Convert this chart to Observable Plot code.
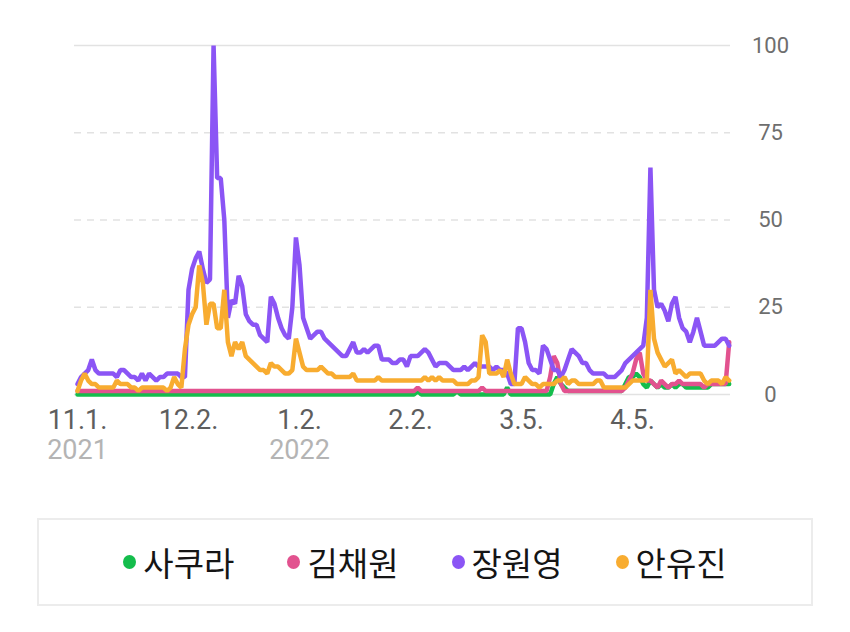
<!DOCTYPE html>
<html><head><meta charset="utf-8">
<script src="https://cdn.jsdelivr.net/npm/d3@7"></script>
<script src="https://cdn.jsdelivr.net/npm/@observablehq/plot@0.6"></script>
<style>
body{margin:0;background:#fff;width:850px;height:632px;overflow:hidden;font-family:Roboto,"Noto Sans CJK KR",sans-serif;}
#chart{position:absolute;left:0;top:0;}
#legend{position:absolute;left:37px;top:518px;width:776px;height:88px;box-sizing:border-box;border:2px solid #ececec;display:flex;align-items:center;justify-content:center;gap:53px;}
.item{display:flex;align-items:center;}
.dot{width:13px;height:14px;border-radius:50%;margin-right:7px;}
.lab{font-family:"Noto Sans CJK KR";font-size:33px;color:#151515;line-height:1;}
</style></head><body>
<div id="chart"></div><div id="legend"></div>
<script>
const seriesNames = ["사쿠라","김채원","장원영","안유진"];
const seriesColors = ["#14bd4c","#e2528f","#8b55f5","#f8ac30"];

// daily values, 2021-11-01 .. 2022-05-02
const sakura = [
0,0,0,0,0,0,0,0,0,0, 0,0,0,0,0,0,0,0,0,0, 0,0,0,0,0,0,0,0,0,0,
0,0,0,0,0,0,0,0,0,0, 0,0,0,0,0,0,0,0,0,0, 0,0,0,0,0,0,0,0,0,0,
0,0,0,0,0,0,0,0,0,0, 0,0,0,0,0,0,0,0,0,0, 0,0,0,0,0,0,0,0,0,0,
0,0,0,0,0,1,0,0,0,0, 0,0,0,0,0,0,1,0,0,0, 0,0,0,0,0,0,0,0,0,0,
2,0,0,0,0,0,0,0,0,0, 0,0,0,3,5,3,2,1,1,1, 1,1,1,1,1,1,1,1,1,1,
1,1,1,3,5,5,6,5,3,2, 4,3,2,3,2,2,3,2,3,3, 2,2,2,2,2,2,2,3,3,3,
3,3,3];
const kimchaewon = [
1,1,1,1,1,1,1,1,1,1, 1,1,1,1,1,1,1,1,1,1, 1,1,1,1,1,1,1,1,1,1,
1,1,1,1,1,1,1,1,1,1, 1,1,1,1,1,1,1,1,1,1, 1,1,1,1,1,1,1,1,1,1,
1,1,1,1,1,1,1,1,1,1, 1,1,1,1,1,1,1,1,1,1, 1,1,1,1,1,1,1,1,1,1,
1,1,1,1,1,2,1,1,1,1, 1,1,1,1,1,1,1,1,1,1, 1,1,1,2,1,1,1,1,1,1,
1,1,1,1,1,1,1,1,1,1, 1,1,5,11,9,3,1,1,1,1, 1,1,1,1,1,1,1,1,1,1,
1,1,1,2,4,6,10,12,6,4, 4,3,2,4,3,2,3,3,4,3, 3,3,3,3,3,2,3,3,3,3,
3,3,15];
const jangwonyoung = [
3,5,6,7,10,7,6,6,6,6, 6,5,7,7,6,5,5,4,6,4, 6,5,4,5,5,6,6,6,6,5,
5,30,36,39,41,36,32,33,100,62, 62,50,22,27,26,34,31,23,21,20, 20,17,16,15,28,26,22,19,17,16,
25,45,37,22,19,16,17,18,18,16, 15,14,13,12,11,11,13,15,12,12, 13,12,13,14,14,10,10,10,9,9,
10,10,8,11,11,11,12,13,12,10, 8,9,9,9,8,7,7,7,8,7, 8,9,8,8,8,8,7,8,7,7,
6,3,3,19,19,15,9,7,7,6, 14,13,10,7,7,5,7,10,13,12, 11,9,9,7,6,6,6,6,5,5,
5,6,7,9,10,11,12,13,14,22, 65,30,25,26,24,21,26,28,22,19, 18,15,18,22,18,14,14,14,14,15,
16,16,14];
const anyujin = [
1,4,6,4,3,3,2,2,2,2, 2,4,3,3,3,2,2,1,2,2, 2,2,2,2,2,1,2,5,3,2,
13,20,23,25,37,32,20,26,26,19, 19,30,15,11,15,13,15,11,10,9, 8,7,7,6,9,8,8,7,6,6,
7,16,12,8,7,7,7,7,8,7, 6,6,5,5,5,5,5,6,4,4, 4,4,4,4,5,4,4,4,4,4,
4,4,4,4,4,4,4,5,4,5, 4,5,4,4,4,4,3,3,3,3, 4,4,5,17,15,6,6,6,7,5,
10,6,3,3,3,5,4,3,3,2, 3,3,3,3,4,4,5,3,4,4, 3,3,3,3,3,4,4,2,2,2,
2,2,2,2,3,4,4,4,4,4, 30,16,12,10,8,9,10,6,7,6, 5,6,6,6,6,4,3,4,4,4,
3,5,4];

const startDay = Date.UTC(2021, 10, 1);
const dayMs = 86400000;
const dates = jangwonyoung.map((_, i) => new Date(startDay + i * dayMs));

const tickDates = ["2021-11-01","2021-12-02","2022-01-02","2022-02-02","2022-03-05","2022-04-05"].map(s => new Date(s + "T00:00:00Z"));
const tickLabels = ["11.1.","12.2.","1.2.","2.2.","3.5.","4.5."];
const yearLabels = ["2021","","2022","","",""];
const yTicks = [0,25,50,75,100];

const seriesValues = [sakura, kimchaewon, jangwonyoung, anyujin];
const rows = [];
seriesValues.forEach((arr, s) => arr.forEach((v, i) => rows.push({date: dates[i], value: v, name: seriesNames[s]})));

const chart = Plot.plot({
  width: 850, height: 480,
  marginTop: 45, marginBottom: 86, marginLeft: 74, marginRight: 120,
  x: {type: "utc", domain: [dates[0], dates[dates.length - 1]], range: [77, 728.7], axis: null},
  y: {domain: [0, 100], range: [394, 45], axis: null},
  color: {domain: seriesNames, range: seriesColors},
  style: {fontFamily: "Roboto, sans-serif", background: "white", overflow: "visible"},
  marks: [
    Plot.ruleY([25, 50, 75], {stroke: "#e2e2e2", strokeWidth: 1.5, strokeDasharray: "7,6"}),
    Plot.ruleY([0, 100], {stroke: "#e2e2e2", strokeWidth: 1.5}),
    Plot.line(rows, {x: "date", y: "value", z: "name", stroke: "name", strokeWidth: 4.5, strokeLinejoin: "miter", curve: "linear"}),
    Plot.text(yTicks, {y: d => d, text: d => String(d), frameAnchor: "right", dx: 40, textAnchor: "middle", fontSize: 22, fill: "#6e6e6e"}),
    Plot.text(tickDates, {x: d => d, text: (d, i) => tickLabels[i], frameAnchor: "bottom", dy: 34.5, fontSize: 27, fill: "#5e5e5e"}),
    Plot.text(tickDates, {x: d => d, text: (d, i) => yearLabels[i], frameAnchor: "bottom", dy: 64.5, fontSize: 27, fill: "#b4b4b4"})
  ]
});
document.getElementById("chart").appendChild(chart);

const legend = document.getElementById("legend");
seriesNames.forEach((n, i) => {
  const item = document.createElement("div"); item.className = "item";
  const dot = document.createElement("span"); dot.className = "dot"; dot.style.background = seriesColors[i];
  const lab = document.createElement("span"); lab.className = "lab"; lab.textContent = n;
  item.appendChild(dot); item.appendChild(lab); legend.appendChild(item);
});
</script>
</body></html>
